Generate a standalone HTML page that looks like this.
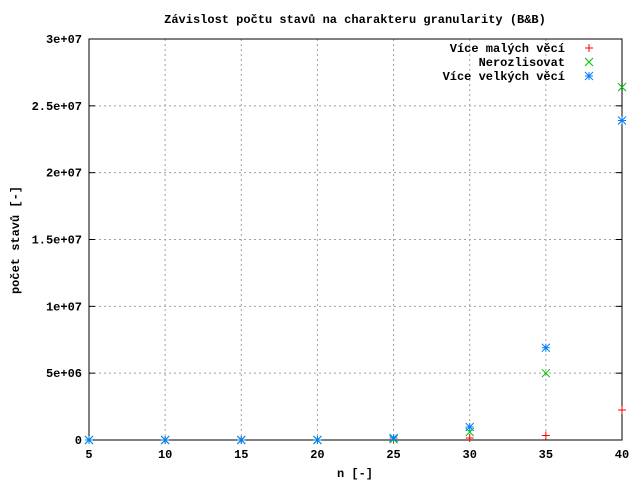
<!DOCTYPE html>
<html><head><meta charset="utf-8"><style>body{margin:0;background:#fff}svg{display:block}text{font-family:"Liberation Mono",monospace;font-size:12px;font-weight:bold}</style></head>
<body>
<svg id="c" width="640" height="480"></svg>
<script>
const xs=[5,10,15,20,25,30,35,40];
const small=[0,0,0,0,0.02e6,0.15e6,0.34e6,2.24e6];
const mixed=[0,0,0,0,0.05e6,0.6e6,5.0e6,26.4e6];
const big=[0,0,0,0,0.15e6,0.97e6,6.9e6,23.9e6];
const xTicks=[5,10,15,20,25,30,35,40];
const yTicks=[0,5e6,1e7,1.5e7,2e7,2.5e7,3e7];
const yLabels=["0","5e+06","1e+07","1.5e+07","2e+07","2.5e+07","3e+07"];
const L=89,R=622,T=39,B=440;
const X=v=>L+(v-5)/35*(R-L), Y=v=>B-v/3e7*(B-T);
const svg=document.getElementById('c');const NS='http://www.w3.org/2000/svg';
function el(t,a,txt){const e=document.createElementNS(NS,t);for(const k in a)e.setAttribute(k,a[k]);if(txt!=null)e.textContent=txt;svg.appendChild(e);return e;}
xTicks.forEach(v=>{const x=X(v);
 if(v>5&&v<40){const g=el('line',{x1:x,x2:x,y1:T,y2:B,stroke:'#a0a0a0','stroke-dasharray':'2,3'});}
 const t=el('text',{x:x,y:458,'text-anchor':'middle'},String(v));});
yTicks.forEach((v,i)=>{const y=Y(v);
 if(v>0&&v<3e7){const g=el('line',{x1:L,x2:R,y1:y,y2:y,stroke:'#a0a0a0','stroke-dasharray':'2,3'});}
 el('line',{x1:L,x2:L+6,y1:y,y2:y,stroke:'#000'});el('line',{x1:R-6,x2:R,y1:y,y2:y,stroke:'#000'});
 const t=el('text',{x:82,y:y+4,'text-anchor':'end'},yLabels[i]);});
const fr=el('rect',{x:L,y:T,width:R-L,height:B-T,fill:'none',stroke:'#000'});
const tt=el('text',{x:355,y:23,'text-anchor':'middle'},'Závislost počtu stavů na charakteru granularity (B&B)');
const xt=el('text',{x:355,y:477,'text-anchor':'middle'},'n [-]');
const yt=el('text',{x:0,y:0,'text-anchor':'middle',transform:'translate(19,240) rotate(-90)'},'počet stavů [-]');
function mark(type,x,y,c){const s=4,p=[];
 if(type!=='x')p.push(`M${x-s} ${y}H${x+s}M${x} ${y-s}V${y+s}`);
 if(type!=='+')p.push(`M${x-s} ${y-s}L${x+s} ${y+s}M${x-s} ${y+s}L${x+s} ${y-s}`);
 return el('path',{d:p.join(''),stroke:c,'stroke-width':1,fill:'none'});}
const series=[[small,'+','#ff0000','Více malých věcí'],[mixed,'x','#00c000','Nerozlisovat'],[big,'*','#0080ff','Více velkých věcí']];
series.forEach((s,si)=>{s[0].forEach((v,i)=>{const m=mark(s[1],X(xs[i]),Y(v),s[2]);});
 const ly=52+si*14;const lt=el('text',{x:565,y:ly,'text-anchor':'end'},s[3]);
 const lm=mark(s[1],589,ly-4,s[2]);});
</script>
</body></html>
